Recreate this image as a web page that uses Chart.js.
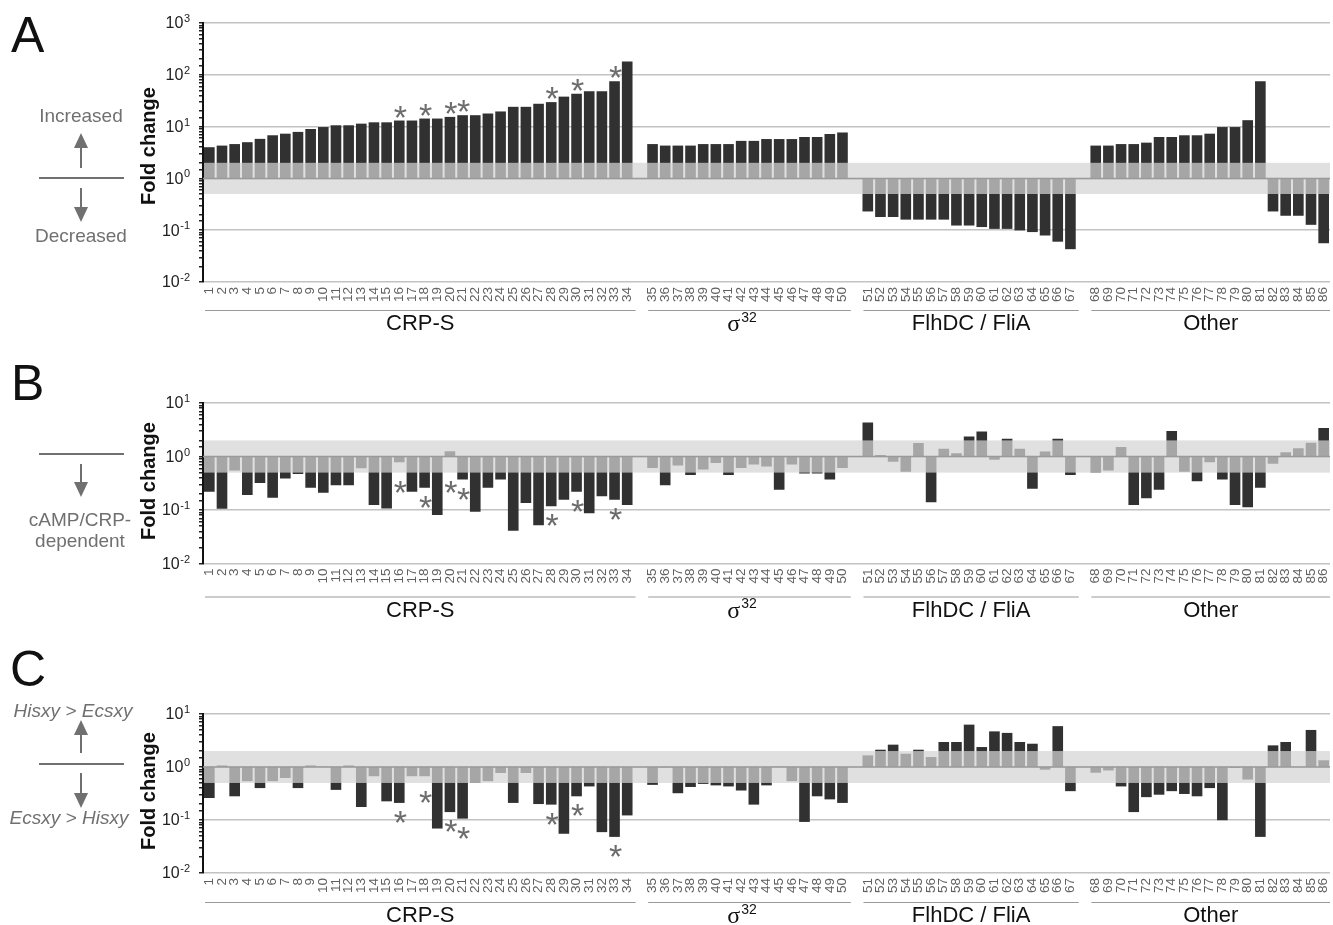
<!DOCTYPE html>
<html>
<head>
<meta charset="utf-8">
<script src="https://cdn.jsdelivr.net/npm/chart.js@4.4.1/dist/chart.umd.min.js"></script>
<style>
  body { margin: 0; background: #fff; width: 1333px; height: 925px; position: relative; overflow: hidden;
         font-family: "Liberation Sans", Arial, sans-serif; }
  canvas { position: absolute; left: 0; display: block; }
  svg { position: absolute; left: 0; top: 0; pointer-events: none; }
</style>
</head>
<body>
<canvas id="cA" width="1333" height="345" style="top:0px"></canvas>
<canvas id="cB" width="1333" height="270" style="top:370px"></canvas>
<canvas id="cC" width="1333" height="235" style="top:690px"></canvas>

<svg width="200" height="925" font-family="Liberation Sans, Arial, sans-serif">
  <!-- A -->
  <text x="11" y="52" font-size="50" fill="#111">A</text>
  <text x="81" y="122" font-size="19" fill="#707070" text-anchor="middle">Increased</text>
  <line x1="81" y1="168" x2="81" y2="146" stroke="#707070" stroke-width="2"/>
  <polygon points="74,148 88,148 81,133" fill="#707070"/>
  <line x1="39" y1="178" x2="124" y2="178" stroke="#707070" stroke-width="2"/>
  <line x1="81" y1="188" x2="81" y2="209" stroke="#707070" stroke-width="2"/>
  <polygon points="74,207 88,207 81,222" fill="#707070"/>
  <text x="81" y="242" font-size="19" fill="#707070" text-anchor="middle">Decreased</text>
  <!-- B -->
  <text x="11" y="400" font-size="50" fill="#111">B</text>
  <line x1="39" y1="454" x2="124" y2="454" stroke="#707070" stroke-width="2"/>
  <line x1="81" y1="464" x2="81" y2="484" stroke="#707070" stroke-width="2"/>
  <polygon points="74,482 88,482 81,497" fill="#707070"/>
  <text x="80" y="526" font-size="19" fill="#707070" text-anchor="middle">cAMP/CRP-</text>
  <text x="80" y="547" font-size="19" fill="#707070" text-anchor="middle">dependent</text>
  <!-- C -->
  <text x="10" y="686" font-size="50" fill="#111">C</text>
  <text x="73" y="717" font-size="19" font-style="italic" fill="#707070" text-anchor="middle">Hisxy &gt; Ecsxy</text>
  <polygon points="74,735 88,735 81,720" fill="#707070"/>
  <line x1="81" y1="733" x2="81" y2="753" stroke="#707070" stroke-width="2"/>
  <line x1="39" y1="764" x2="124" y2="764" stroke="#707070" stroke-width="2"/>
  <line x1="81" y1="773" x2="81" y2="795" stroke="#707070" stroke-width="2"/>
  <polygon points="74,793 88,793 81,808" fill="#707070"/>
  <text x="69" y="824" font-size="19" font-style="italic" fill="#707070" text-anchor="middle">Ecsxy &gt; Hisxy</text>
</svg>

<script>
// gene groups
const groupNames = ['CRP-S', 'σ', 'FlhDC / FliA', 'Other'];
const groupSup = ['', '32', '', ''];
const groupFirst = [1, 35, 51, 68];
const groupLast = [34, 50, 67, 86];
const starred = [16, 18, 20, 21, 28, 30, 33];

// fold change per gene 1..86
const foldA = [
  4.0, 4.3, 4.6, 5.0, 5.8, 6.8, 7.3, 7.9, 9.0, 9.8,
  10.6, 10.6, 11.4, 12.1, 12.1, 13.1, 13.1, 14.3, 14.3, 15.4,
  16.6, 16.6, 17.9, 19.6, 24.1, 24.1, 27.6, 29.7, 37.9, 43.3,
  48, 48, 75, 181,
  4.6, 4.3, 4.3, 4.3, 4.6, 4.6, 4.6, 5.3, 5.3, 5.75, 5.75, 5.75, 6.3, 6.3, 7.2, 7.7,
  0.23, 0.18, 0.18, 0.16, 0.16, 0.16, 0.16, 0.123, 0.123, 0.115, 0.106, 0.106, 0.099, 0.092, 0.079, 0.060, 0.043,
  4.3, 4.3, 4.6, 4.6, 4.9, 6.3, 6.3, 6.8, 6.8, 7.3, 9.8, 9.8, 13.3, 75,
  0.23, 0.19, 0.19, 0.127, 0.056
];
const foldB = [
  0.22, 0.105, 0.55, 0.19, 0.32, 0.17, 0.39, 0.47, 0.26, 0.21,
  0.29, 0.29, 0.60, 0.124, 0.107, 0.78, 0.22, 0.26, 0.081, 1.26,
  0.37, 0.093, 0.26, 0.37, 0.041, 0.135, 0.052, 0.117, 0.156, 0.22,
  0.087, 0.18, 0.156, 0.124,
  0.61, 0.29, 0.68, 0.45, 0.57, 0.76, 0.45, 0.61, 0.71, 0.65, 0.24, 0.71, 0.48, 0.48, 0.37, 0.61,
  4.3, 1.07, 0.8, 0.52, 1.78, 0.14, 1.39, 1.15, 2.37, 2.94, 0.87, 2.14, 1.39, 0.25, 1.24, 2.14, 0.45,
  0.5, 0.55, 1.5, 0.124, 0.166, 0.24, 3.0, 0.52, 0.345, 0.78, 0.37, 0.124, 0.112, 0.26,
  0.73, 1.2, 1.43, 1.8, 3.4
];
const foldC = [
  0.26, 1.07, 0.28, 0.54, 0.40, 0.54, 0.62, 0.40, 1.07, 1.02,
  0.37, 1.07, 0.176, 0.67, 0.225, 0.21, 0.67, 0.67, 0.069, 0.141,
  0.106, 0.50, 0.54, 0.77, 0.21, 0.77, 0.20, 0.195, 0.055, 0.28,
  0.43, 0.059, 0.048, 0.122,
  0.46, 0.98, 0.32, 0.42, 0.48, 0.45, 0.43, 0.36, 0.195, 0.45, 1.02, 0.54, 0.092, 0.28, 0.245, 0.21,
  1.66, 2.12, 2.64, 1.78, 2.12, 1.54, 2.96, 2.96, 6.3, 2.38, 4.7, 4.4, 2.96, 2.75, 0.89, 5.9, 0.35,
  0.78, 0.86, 0.43, 0.141, 0.27, 0.30, 0.35, 0.31, 0.28, 0.40, 0.099, 0.96, 0.58, 0.048,
  2.56, 2.96, 1.0, 5.0, 1.34
];

const FONT = '"Liberation Sans", Arial, sans-serif';

// one empty slot between groups
const slotLabels = [];
const slotOf = {};
groupFirst.forEach((f, gi) => {
  if (gi > 0) slotLabels.push('');
  for (let g = f; g <= groupLast[gi]; g++) {
    slotOf[g] = slotLabels.length;
    slotLabels.push(String(g));
  }
});

function toSlots(vals) {
  return slotLabels.map(l => l === '' ? null : [1, vals[Number(l) - 1]]);
}

function isPow10(v) {
  const l = Math.log10(v);
  return Math.abs(l - Math.round(l)) < 1e-6;
}

const decor = {
  id: 'decor',
  afterDatasetsDraw(chart, args, o) {
    const {ctx, chartArea: a} = chart;
    const x = chart.scales.x, y = chart.scales.y;
    ctx.save();
    // +/- 2 fold band
    const yHi = y.getPixelForValue(2), yLo = y.getPixelForValue(0.5);
    ctx.fillStyle = 'rgba(212,212,212,0.72)';
    ctx.fillRect(a.left + 1, yHi, a.right - a.left - 1, yLo - yHi);
    const y1 = y.getPixelForValue(1);
    ctx.strokeStyle = '#9a9a9a';
    ctx.lineWidth = 1.5;
    ctx.beginPath(); ctx.moveTo(a.left, y1); ctx.lineTo(a.right, y1); ctx.stroke();
    // asterisks
    const fs = 34;
    ctx.fillStyle = '#6c6c6c';
    ctx.font = fs + 'px ' + FONT;
    ctx.textAlign = 'center';
    ctx.textBaseline = 'alphabetic';
    starred.forEach(g => {
      const v = o.vals[g - 1];
      const px = x.getPixelForValue(slotOf[g]) + 1;
      const cy = o.up ? y.getPixelForValue(Math.max(v, 2)) - 11
                      : y.getPixelForValue(Math.min(v, 0.5)) + 12;
      ctx.fillText('*', px, cy + fs * 0.56);
    });
    ctx.restore();
  },
  afterDraw(chart, args, o) {
    const {ctx, chartArea: a} = chart;
    const x = chart.scales.x, y = chart.scales.y;
    ctx.save();
    // y tick labels 10^n
    ctx.fillStyle = '#222';
    for (let p = Math.round(Math.log10(y.min)); p <= Math.round(Math.log10(y.max)); p++) {
      const py = y.getPixelForValue(Math.pow(10, p));
      const ex = String(p);
      ctx.font = '11px ' + FONT;
      const ew = ctx.measureText(ex).width;
      ctx.textAlign = 'left';
      ctx.textBaseline = 'alphabetic';
      ctx.fillText(ex, 190 - ew, py - 1);
      ctx.font = '16px ' + FONT;
      ctx.textAlign = 'right';
      ctx.textBaseline = 'middle';
      ctx.fillText('10', 190 - ew - 0.5, py + 1);
    }
    // axis title
    ctx.save();
    ctx.translate(149, o.titleY);
    ctx.rotate(-Math.PI / 2);
    ctx.font = 'bold 20px ' + FONT;
    ctx.textAlign = 'center';
    ctx.textBaseline = 'middle';
    ctx.fillStyle = '#111';
    ctx.fillText('Fold change', 0, 0);
    ctx.restore();
    // group brackets and names
    const w = x.width / slotLabels.length;
    const ly = a.bottom + o.lineOff, ty = a.bottom + o.textOff;
    groupNames.forEach((name, gi) => {
      const x1 = x.getPixelForValue(slotOf[groupFirst[gi]]) - w / 2 + 2;
      const x2 = gi === groupNames.length - 1 ? a.right : x.getPixelForValue(slotOf[groupLast[gi]]) + w / 2 + 2;
      ctx.strokeStyle = '#999';
      ctx.lineWidth = 1;
      ctx.beginPath(); ctx.moveTo(x1, ly + 0.5); ctx.lineTo(x2, ly + 0.5); ctx.stroke();
      ctx.fillStyle = '#111';
      ctx.textBaseline = 'middle';
      const cx = (x1 + x2) / 2;
      if (groupSup[gi]) {
        ctx.font = '24px "Liberation Serif", serif';
        const w1 = ctx.measureText(name).width;
        ctx.font = '14px ' + FONT;
        const w2 = ctx.measureText(groupSup[gi]).width;
        const sx = cx - (w1 + w2) / 2 - 8;
        ctx.textAlign = 'left';
        ctx.font = '24px "Liberation Serif", serif';
        ctx.fillText(name, sx, ty + 1);
        ctx.font = '14px ' + FONT;
        ctx.fillText(groupSup[gi], sx + w1 + 1, ty - 6);
      } else {
        ctx.font = '22px ' + FONT;
        ctx.textAlign = 'center';
        ctx.fillText(name, cx, ty);
      }
    });
    ctx.restore();
  }
};

const panels = [
  {id: 'cA', vals: foldA, max: 1000, top: 23, bottom: 282, h: 345, titleY: 146, lineOff: 28, textOff: 42, up: true},
  {id: 'cB', vals: foldB, max: 10, top: 33, bottom: 193.5, h: 270, titleY: 111, lineOff: 33, textOff: 47, up: false},
  {id: 'cC', vals: foldC, max: 10, top: 24, bottom: 183, h: 235, titleY: 101, lineOff: 29, textOff: 43, up: false}
];

panels.forEach(p => {
  new Chart(document.getElementById(p.id), {
    type: 'bar',
    data: {
      labels: slotLabels,
      datasets: [{
        data: toSlots(p.vals),
        backgroundColor: '#313131',
        borderWidth: 0,
        barPercentage: 0.84,
        categoryPercentage: 1
      }]
    },
    options: {
      responsive: false,
      animation: false,
      devicePixelRatio: 1,
      layout: {padding: {top: p.top, right: 3, left: 0, bottom: 0}},
      plugins: {
        legend: {display: false},
        tooltip: {enabled: false},
        decor: {vals: p.vals, up: p.up, titleY: p.titleY, lineOff: p.lineOff, textOff: p.textOff}
      },
      scales: {
        x: {
          grid: {display: false, drawTicks: false},
          border: {display: false},
          ticks: {autoSkip: false, minRotation: 90, maxRotation: 90, padding: 5, color: '#606060',
                  font: {size: 13.5, family: FONT}},
          afterFit(s) { s.height = p.h - p.bottom; s.paddingLeft = 0; s.paddingRight = 0; }
        },
        y: {
          type: 'logarithmic',
          min: 0.01,
          max: p.max,
          afterFit(s) { s.width = 203; },
          grid: {
            color: c => (c.tick && isPow10(c.tick.value)) ? '#c2c2c2' : 'rgba(0,0,0,0)',
            lineWidth: 1.5,
            tickColor: '#222',
            tickLength: 4,
            drawTicks: true
          },
          border: {display: true, color: '#111', width: 2},
          ticks: {autoSkip: false, padding: 8, callback: () => ''}
        }
      }
    },
    plugins: [decor]
  });
});
</script>
</body>
</html>
